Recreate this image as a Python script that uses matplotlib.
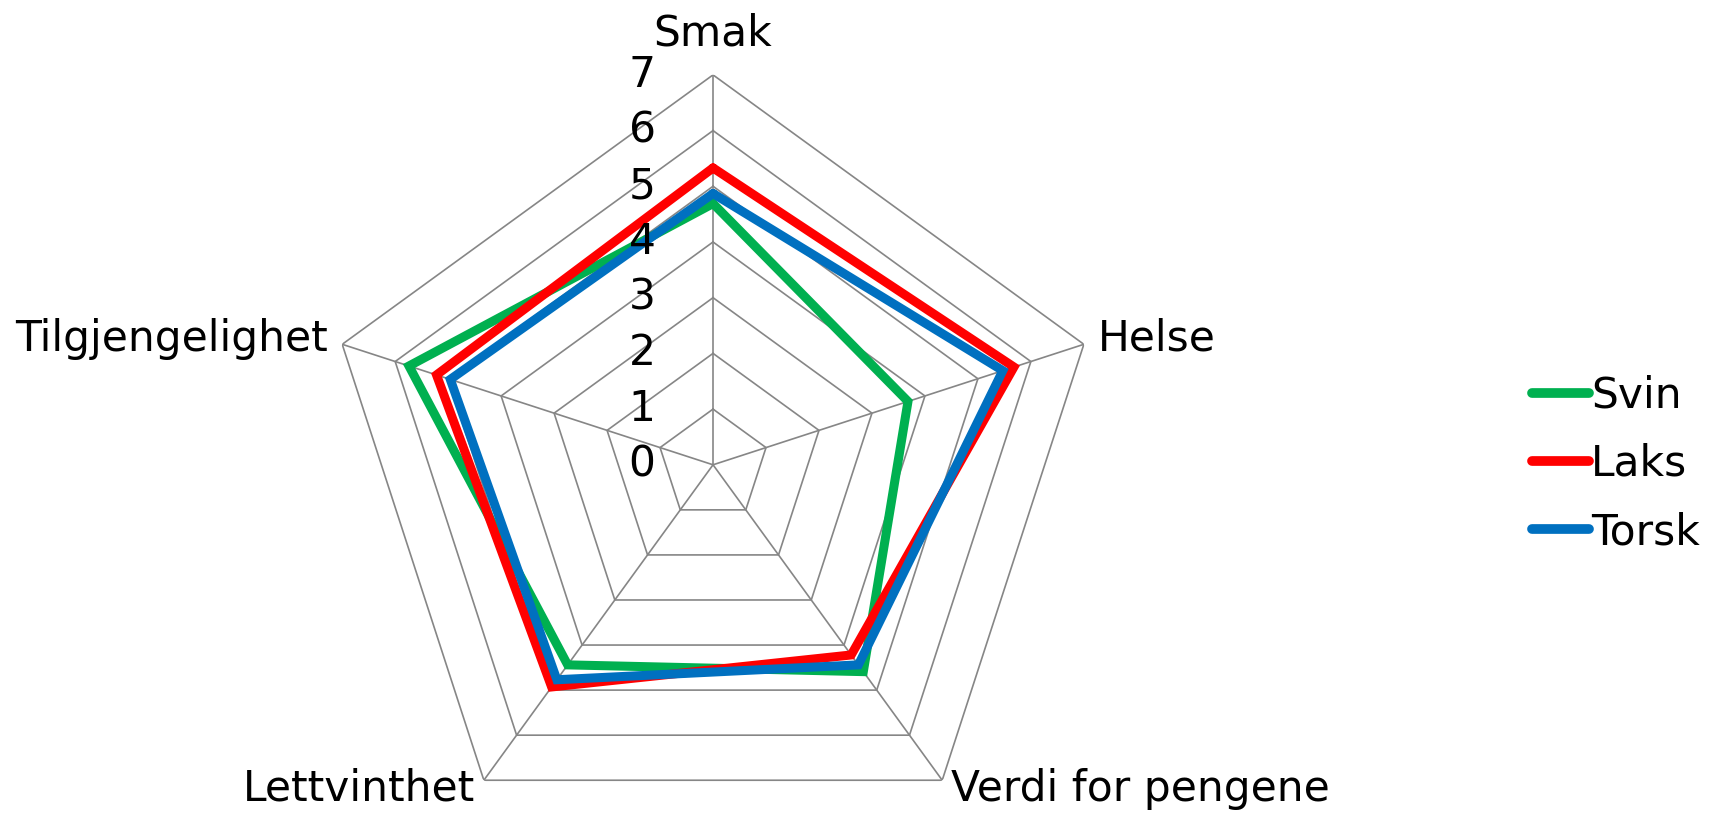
import numpy as np
import matplotlib.pyplot as plt
from matplotlib.transforms import offset_copy

categories = ['Smak', 'Helse', 'Verdi for pengene', 'Lettvinthet', 'Tilgjengelighet']
svin = [4.69, 3.68, 4.59, 4.44, 5.74]
laks = [5.33, 5.68, 4.22, 4.93, 5.22]
torsk = [4.87, 5.47, 4.44, 4.77, 4.96]
levels = [0, 1, 2, 3, 4, 5, 6, 7]

series = [('Svin', svin, '#00B050'), ('Laks', laks, '#FF0000'), ('Torsk', torsk, '#0070C0')]

plt.rcParams['font.family'] = 'DejaVu Sans'
fs = 30.5

fig = plt.figure(figsize=(17.13, 8.14), dpi=100)
ax = fig.add_axes([0.1886, -0.05, 0.4553, 0.958], projection='polar')
ax.set_theta_offset(np.pi / 2)
ax.set_theta_direction(-1)
ax.set_ylim(0, 7)
ax.grid(False)
ax.spines['polar'].set_visible(False)
ax.set_xticks([])
ax.set_yticks([])
ax.patch.set_visible(False)

n = len(categories)
angles = np.linspace(0, 2 * np.pi, n, endpoint=False)
closed = np.append(angles, angles[0])

# polygon grid
for lv in levels[1:]:
    ax.plot(closed, [lv] * (n + 1), color='#868686', lw=1.2, zorder=1)
for a in angles:
    ax.plot([a, a], [0, levels[-1]], color='#868686', lw=1.2, zorder=1)

for name, vals, col in series:
    ax.plot(closed, vals + vals[:1], color=col, lw=6.5, label=name,
            solid_joinstyle='miter', solid_capstyle='round', zorder=3)

# scale labels along the top spoke
tr = offset_copy(ax.transData, fig=fig, x=-51, y=0, units='points')
for lv in levels:
    ax.text(0, lv, str(lv), transform=tr, ha='center', va='center', fontsize=fs, zorder=4)

# category labels
pos = [(0, 30, 'center', 'center'), (10, 4, 'left', 'center'),
       (6, -6, 'left', 'center'), (-6, -6, 'right', 'center'),
       (-10, 4, 'right', 'center')]
for a, lab, (dx, dy, ha, va) in zip(angles, categories, pos):
    t = offset_copy(ax.transData, fig=fig, x=dx, y=dy, units='points')
    ax.text(a, levels[-1], lab, transform=t, ha=ha, va=va, fontsize=fs)

leg = fig.legend(loc='center left', bbox_to_anchor=(0.872, 0.43), frameon=False,
                 fontsize=fs, handlelength=1.35, handletextpad=0.05, labelspacing=0.62)
for h in leg.get_lines():
    h.set_linewidth(7)

fig.savefig('out.png', dpi=100)
